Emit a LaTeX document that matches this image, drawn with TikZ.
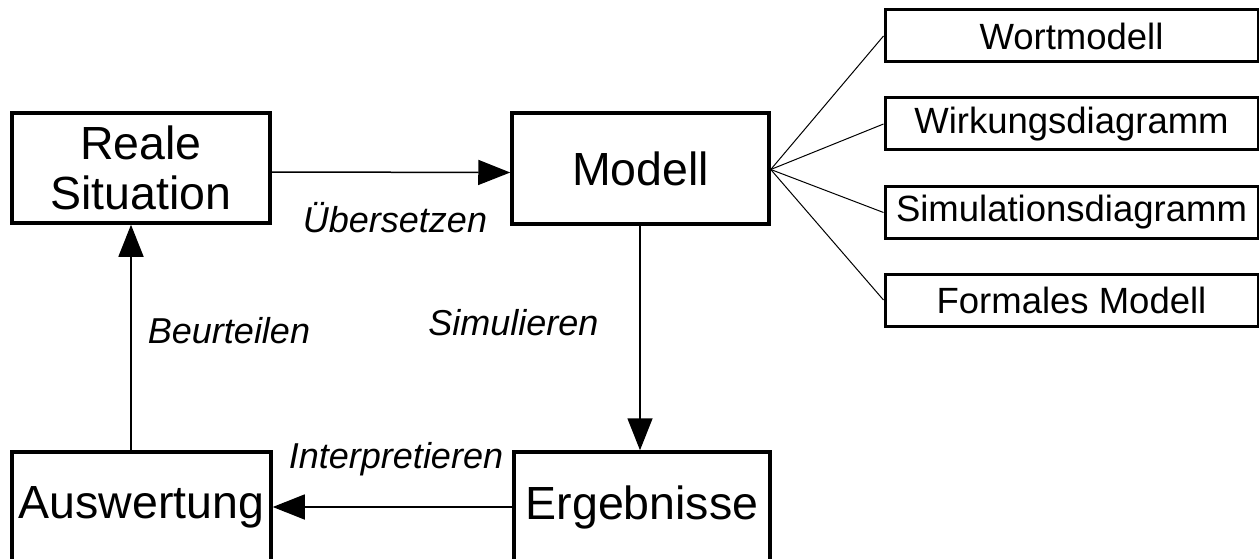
\documentclass[tikz,border=0pt]{standalone}
\usepackage{fontspec}
\setmainfont{Liberation Sans}
\usetikzlibrary{arrows.meta}
\begin{document}
\begin{tikzpicture}[x=1pt,y=-1pt,
  bigbox/.style={draw,line width=3.5pt,inner sep=0pt,align=center,
    font=\fontsize{46.5}{50}\selectfont},
  smallbox/.style={draw,line width=3pt,minimum width=373pt,minimum height=52pt,
    inner sep=0pt,font=\fontsize{36.5}{40}\selectfont},
  lbl/.style={anchor=base,font=\fontsize{36}{40}\selectfont\itshape},
  conn/.style={line width=1.5pt,-{Triangle[length=32pt,width=25pt]}},
  thin/.style={line width=1pt}]
\clip (0,0) rectangle (1259,559);
\fill[white] (0,0) rectangle (1259,559);
\node[bigbox,minimum width=258pt,minimum height=110pt] (reale) at (141,168) {Reale\\Situation};
\node[bigbox,minimum width=257pt,minimum height=111pt] (modell) at (640.5,168.5) {Modell};
\node[bigbox,minimum width=259pt,minimum height=110pt] (ausw) at (141.5,507) {Auswertung};
\node[bigbox,minimum width=256pt,minimum height=110pt] (erg) at (642,507) {Ergebnisse};
\node[smallbox] (wort) at (1071.5,36) {Wortmodell};
\node[smallbox] (wirk) at (1071.5,124) {Wirkungsdiagramm};
\node[smallbox] (sim) at (1071.5,212.5) {Simulationsdiagramm};
\node[smallbox] (form) at (1071.5,300) {Formales Modell};
\draw[conn] ([yshift=-4pt]reale.east) -- ([yshift=-4pt]modell.west);
\draw[conn] (modell.south -| 640,0) -- (erg.north -| 640,0);
\draw[conn] (erg.west) -- (ausw.east);
\draw[conn] (ausw.north -| 131,0) -- (reale.south -| 131,0);
\foreach \n in {wort,wirk,sim,form}
  \draw[thin] ([yshift=-1pt]modell.east) -- (\n.west);
\node[lbl] (lu) at (395,233) {Übersetzen};
\node[lbl] (lb) at (229,343) {Beurteilen};
\node[lbl] (ls) at (513.5,335) {Simulieren};
\node[lbl] (li) at (396,468) {Interpretieren};
\end{tikzpicture}
\end{document}
